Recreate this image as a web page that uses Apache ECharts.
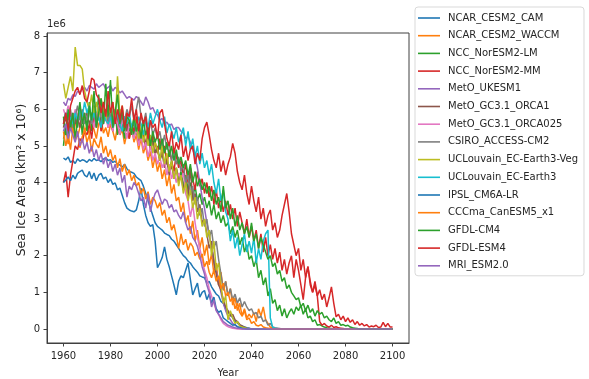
<!DOCTYPE html>
<html>
<head>
<meta charset="utf-8">
<script src="https://cdn.jsdelivr.net/npm/echarts@6.0.0/dist/echarts.min.js"></script>
<style>
  html, body { margin: 0; padding: 0; background: #fff; }
  #SeaIceChart { width: 589px; height: 379px; }
</style>
</head>
<body>
<div id="SeaIceChart"></div>
<script>
// sea ice area per model, 1960..2100, in units of 1e6 km2
const years = Array.from({ length: 141 }, (_, i) => 1960 + i);

const modelNames = ["NCAR_CESM2_CAM", "NCAR_CESM2_WACCM", "NCC_NorESM2-LM", "NCC_NorESM2-MM",
  "MetO_UKESM1", "MetO_GC3.1_ORCA1", "MetO_GC3.1_ORCA025", "CSIRO_ACCESS-CM2",
  "UCLouvain_EC-Earth3-Veg", "UCLouvain_EC-Earth3", "IPSL_CM6A-LR", "CCCma_CanESM5_x1",
  "GFDL-CM4", "GFDL-ESM4", "MRI_ESM2.0"];

const cesmCam = [
  4.67,4.62,4.70,4.55,4.60,4.52,4.65,4.58,4.62,4.60,
  4.55,4.63,4.58,4.66,4.60,4.62,4.57,4.64,4.68,4.60,
  4.62,4.55,4.58,4.50,4.48,4.42,4.50,4.38,4.30,4.28,
  4.25,4.15,4.10,4.05,3.90,3.70,3.50,3.30,3.10,2.90,
  2.80,2.75,2.70,2.62,2.58,2.55,2.45,2.40,2.30,2.20,
  2.10,2.00,1.95,1.85,1.80,1.70,1.62,1.55,1.45,1.42,
  1.40,1.25,1.30,1.15,1.05,0.95,0.90,0.75,0.70,0.55,
  0.45,0.40,0.30,0.22,0.16,0.10,0.08,0.05,0.03,0.02,
  0,0,0,0,0,0,0,0,0,0,
  0,0,0,0,0,0,0,0,0,0,
  0,0,0,0,0,0,0,0,0,0,
  0,0,0,0,0,0,0,0,0,0,
  0,0,0,0,0,0,0,0,0,0,
  0,0,0,0,0,0,0,0,0,0,
  0];

const cesmWaccm = [
  5.20,5.45,5.05,5.60,5.35,5.70,5.25,5.50,5.80,5.40,
  5.55,5.30,5.65,5.45,5.20,5.60,5.75,5.35,5.50,5.25,
  5.60,5.40,5.15,5.55,5.30,5.45,5.05,5.35,5.20,5.50,
  5.10,5.30,4.90,5.20,4.80,5.00,4.60,4.85,4.40,4.70,
  4.30,4.55,4.10,4.35,3.90,4.20,3.70,3.95,3.50,3.60,
  3.20,3.45,2.90,3.10,2.60,2.95,2.40,2.70,2.20,2.50,
  2.00,2.30,1.75,2.05,1.50,1.80,1.20,1.55,1.05,1.30,
  0.90,1.10,0.65,0.85,0.50,0.70,0.35,0.55,0.30,0.40,
  0.30,0.45,0.20,0.55,0.35,0.60,0.25,0.15,0.05,0.02,
  0,0,0,0,0,0,0,0,0,0,
  0,0,0,0,0,0,0,0,0,0,
  0,0,0,0,0,0,0,0,0,0,
  0,0,0,0,0,0,0,0,0,0,
  0,0,0,0,0,0,0,0,0,0,
  0];

const noresmLm = [
  5.00,5.60,5.20,5.90,5.40,5.80,5.50,6.10,5.30,5.90,
  5.60,6.20,5.40,6.00,5.70,6.40,5.50,6.10,5.80,5.60,
  6.00,5.50,5.90,5.30,5.80,5.60,5.20,5.70,5.40,5.60,
  5.30,5.70,5.10,5.50,5.20,5.00,5.40,4.90,5.20,4.80,
  5.00,4.60,4.90,4.50,4.70,4.30,4.60,4.20,4.40,4.10,
  4.30,3.90,4.20,3.80,4.00,3.60,3.90,3.50,3.70,3.40,
  3.60,3.30,3.50,3.10,3.40,3.00,3.20,2.90,3.10,2.80,
  2.90,2.60,2.80,2.50,2.70,2.30,2.50,2.10,2.30,1.90,
  2.00,1.70,1.90,1.40,1.60,1.20,1.40,0.90,1.10,0.70,
  0.80,0.50,0.65,0.35,0.55,0.30,0.45,0.55,0.40,0.60,
  0.50,0.65,0.40,0.55,0.30,0.35,0.20,0.25,0.10,0.12,
  0.08,0.05,0.03,0.02,0.01,0,0,0,0,0,
  0,0,0,0,0,0,0,0,0,0,
  0,0,0,0,0,0,0,0,0,0,
  0];

const noresmMm = [
  4.00,4.30,3.60,4.20,4.60,5.00,4.90,5.20,5.10,5.40,
  5.30,5.60,5.20,5.80,5.50,5.90,5.40,5.70,6.00,5.50,
  5.80,5.40,6.00,5.60,5.30,5.90,5.50,5.70,5.20,5.60,
  5.40,5.80,5.10,5.50,5.30,5.00,5.60,4.90,5.30,5.10,
  4.80,5.20,4.70,5.00,4.50,4.90,4.60,4.30,4.80,4.40,
  4.60,4.20,4.50,4.00,4.40,4.10,3.80,4.30,3.90,4.10,
  3.70,4.00,3.60,3.90,3.40,3.80,3.30,3.60,3.20,3.50,
  3.10,3.40,3.00,3.30,2.80,3.20,2.90,2.60,3.00,2.50,
  2.80,2.40,2.70,2.20,2.60,2.10,2.50,2.00,2.30,1.90,
  2.20,1.80,2.10,1.60,1.90,1.50,1.80,2.00,1.40,1.90,
  1.60,1.20,0.80,1.40,1.70,1.30,1.00,1.20,0.90,0.20,
  0.10,0.15,0.08,0.05,0.10,0.04,0.06,0.03,0.02,0.01,
  0,0,0,0,0,0,0,0,0,0,
  0,0,0,0,0,0,0,0,0,0,
  0];

const ukesm = [
  6.20,6.10,6.30,6.25,6.40,6.35,6.50,6.45,6.55,6.60,
  6.50,6.65,6.60,6.55,6.70,6.60,6.65,6.70,6.55,6.60,
  6.65,6.50,6.60,6.55,6.45,6.50,6.40,6.30,6.35,6.30,
  6.25,6.35,6.30,6.20,6.10,6.34,6.20,6.00,6.05,5.90,
  5.85,5.70,5.75,5.60,5.65,5.55,5.60,5.45,5.50,5.50,
  5.40,5.35,5.20,5.25,5.10,4.90,4.70,4.40,4.00,3.60,
  3.30,2.90,2.60,2.20,1.90,1.60,1.30,1.00,0.70,0.50,
  0.35,0.25,0.15,0.10,0.06,0.03,0.02,0.01,0,0,
  0,0,0,0,0,0,0,0,0,0,
  0,0,0,0,0,0,0,0,0,0,
  0,0,0,0,0,0,0,0,0,0,
  0,0,0,0,0,0,0,0,0,0,
  0,0,0,0,0,0,0,0,0,0,
  0,0,0,0,0,0,0,0,0,0,
  0];

const gcOrca1 = [
  5.50,5.80,5.40,5.70,5.90,5.60,5.80,5.50,6.00,5.70,
  5.90,5.60,5.80,6.10,5.70,5.90,5.50,5.80,6.00,5.60,
  5.80,5.50,5.90,5.70,6.00,5.60,5.80,5.40,5.70,5.50,
  5.60,5.30,5.50,5.20,5.40,5.00,5.30,4.90,5.10,4.80,
  4.90,4.60,4.80,4.40,4.60,4.20,4.50,4.10,4.40,4.00,
  4.20,3.80,4.10,3.60,4.40,3.50,3.70,3.20,3.40,2.90,
  3.00,2.60,2.20,2.40,1.80,1.50,1.20,1.07,0.80,0.60,
  0.50,0.35,0.40,0.25,0.20,0.12,0.08,0.05,0.02,0.01,
  0,0,0,0,0,0,0,0,0,0,
  0,0,0,0,0,0,0,0,0,0,
  0,0,0,0,0,0,0,0,0,0,
  0,0,0,0,0,0,0,0,0,0,
  0,0,0,0,0,0,0,0,0,0,
  0,0,0,0,0,0,0,0,0,0,
  0];

const gcOrca025 = [
  6.00,5.80,6.10,5.90,5.70,6.00,5.80,6.10,5.60,5.90,
  5.70,6.00,5.80,5.50,5.90,5.70,6.00,5.60,5.80,5.50,
  5.70,5.40,5.80,5.60,5.30,5.70,5.50,5.20,5.60,5.40,
  5.20,5.50,5.00,5.30,4.90,5.10,4.70,5.00,4.60,4.80,
  4.50,4.70,4.40,4.60,4.20,4.50,4.10,4.30,4.00,4.26,
  4.10,4.26,3.70,3.50,3.06,3.40,2.90,2.50,2.20,1.90,
  1.60,1.40,1.10,0.90,0.70,0.50,0.40,0.25,0.15,0.10,
  0.06,0.04,0.02,0.01,0,0,0,0,0,0,
  0,0,0,0,0,0,0,0,0,0,
  0,0,0,0,0,0,0,0,0,0,
  0,0,0,0,0,0,0,0,0,0,
  0,0,0,0,0,0,0,0,0,0,
  0,0,0,0,0,0,0,0,0,0,
  0,0,0,0,0,0,0,0,0,0,
  0];

const accessCm2 = [
  5.60,5.90,5.70,6.00,5.50,5.80,6.10,5.70,5.90,5.60,
  5.80,6.00,5.60,5.90,5.70,6.10,5.80,5.60,6.00,5.70,
  5.90,5.60,6.00,5.80,5.50,5.90,5.70,6.00,5.80,6.10,
  5.70,6.00,6.34,5.80,5.60,5.90,5.40,5.70,5.30,5.50,
  5.20,5.40,5.00,5.30,4.90,5.10,4.60,4.90,4.50,4.70,
  4.30,4.50,4.00,4.20,3.70,3.90,3.40,3.60,3.10,3.30,
  2.80,3.00,2.50,2.70,2.20,2.40,1.90,1.50,1.07,1.30,
  0.90,1.10,0.80,0.95,0.70,0.85,0.60,0.75,0.60,0.50,
  0.55,0.40,0.45,0.30,0.35,0.20,0.25,0.10,0.15,0.05,
  0.03,0.02,0.01,0,0,0,0,0,0,0,
  0,0,0,0,0,0,0,0,0,0,
  0,0,0,0,0,0,0,0,0,0,
  0,0,0,0,0,0,0,0,0,0,
  0,0,0,0,0,0,0,0,0,0,
  0];

const ecEarth3Veg = [
  6.70,6.30,6.60,6.90,6.50,7.70,7.20,7.20,7.10,6.50,
  6.20,6.00,6.40,5.90,6.20,5.80,6.30,6.00,5.70,6.10,
  5.90,6.20,5.60,6.90,5.80,6.10,5.50,5.90,5.70,5.40,
  5.80,5.50,5.20,5.60,5.10,5.40,5.00,5.30,4.80,5.10,
  4.90,4.60,5.00,4.50,4.80,4.30,4.60,4.10,4.40,3.90,
  4.20,3.70,4.00,3.50,3.80,3.30,3.60,3.00,3.30,2.80,
  3.00,2.50,2.70,2.00,2.40,1.60,1.80,1.20,0.70,0.90,
  0.25,0.50,0.30,0.15,0.20,0.08,0.05,0.03,0.01,0,
  0,0,0,0,0,0,0,0,0,0,
  0,0,0,0,0,0,0,0,0,0,
  0,0,0,0,0,0,0,0,0,0,
  0,0,0,0,0,0,0,0,0,0,
  0,0,0,0,0,0,0,0,0,0,
  0,0,0,0,0,0,0,0,0,0,
  0];

const ecEarth3 = [
  5.70,5.90,5.50,5.80,5.60,5.90,5.70,6.00,5.80,6.20,
  5.90,6.10,5.70,5.90,5.60,5.80,5.50,5.90,5.70,5.60,
  5.80,5.50,5.70,5.90,5.60,5.40,5.80,5.60,5.90,5.50,
  5.70,5.40,5.80,5.60,5.30,5.70,5.50,5.90,5.60,5.80,
  6.00,5.70,5.50,5.80,5.35,5.60,5.40,5.20,5.50,5.10,
  5.30,5.50,5.00,5.40,4.90,5.20,4.70,5.00,4.50,4.80,
  4.40,4.60,4.20,4.50,4.00,3.70,4.10,3.50,3.80,3.20,
  3.00,2.40,2.70,2.20,2.50,2.00,2.30,2.60,2.10,2.40,
  2.07,2.50,1.80,2.20,1.90,2.40,2.60,2.70,0.30,0.05,
  0.02,0.01,0,0,0,0,0,0,0,0,
  0,0,0,0,0,0,0,0,0,0,
  0,0,0,0,0,0,0,0,0,0,
  0,0,0,0,0,0,0,0,0,0,
  0,0,0,0,0,0,0,0,0,0,
  0];

const ipsl = [
  4.00,4.07,4.15,4.05,4.20,4.10,4.25,4.30,4.34,4.20,
  4.15,4.30,4.10,4.26,4.05,4.20,4.25,4.10,4.15,4.00,
  4.10,3.95,3.99,3.80,3.85,3.65,3.45,3.30,3.25,3.22,
  3.20,3.25,3.50,3.85,3.40,3.10,2.90,2.80,2.85,2.40,
  1.67,1.80,1.95,2.24,1.90,1.70,1.45,1.20,0.93,1.30,
  1.45,1.40,1.60,1.80,1.35,0.93,1.10,1.25,0.87,1.00,
  1.05,0.80,0.95,0.70,0.87,0.55,0.45,0.50,0.30,0.25,
  0.20,0.15,0.10,0.12,0.06,0.04,0.02,0.01,0,0,
  0,0,0,0,0,0,0,0,0,0,
  0,0,0,0,0,0,0,0,0,0,
  0,0,0,0,0,0,0,0,0,0,
  0,0,0,0,0,0,0,0,0,0,
  0,0,0,0,0,0,0,0,0,0,
  0,0,0,0,0,0,0,0,0,0,
  0];

const canesm = [
  5.40,5.00,5.30,4.90,5.50,5.15,5.35,4.95,5.25,5.45,
  5.10,5.30,4.85,5.20,5.05,4.95,5.25,4.80,5.00,4.70,
  4.90,4.60,4.75,4.40,4.65,4.30,4.50,4.20,4.35,4.05,
  4.20,3.90,4.00,3.70,3.85,3.55,3.75,3.40,3.60,3.50,
  3.30,3.45,3.10,3.25,2.90,3.05,2.70,2.85,2.55,2.20,
  2.60,2.30,2.45,2.15,2.35,2.25,2.00,2.10,1.90,2.05,
  1.70,1.85,1.55,1.40,1.60,1.30,1.45,1.10,1.25,0.90,
  1.00,0.75,0.85,0.55,0.70,0.45,0.35,0.50,0.25,0.30,
  0.15,0.20,0.10,0.08,0.12,0.05,0.03,0.02,0.01,0,
  0,0,0,0,0,0,0,0,0,0,
  0,0,0,0,0,0,0,0,0,0,
  0,0,0,0,0,0,0,0,0,0,
  0,0,0,0,0,0,0,0,0,0,
  0,0,0,0,0,0,0,0,0,0,
  0];

const gfdlCm4 = [
  5.80,5.30,6.00,5.50,5.90,5.20,5.70,6.20,5.60,5.90,
  5.40,6.10,5.70,6.50,5.50,5.90,6.30,5.60,6.70,5.80,
  6.80,5.50,5.90,6.40,5.60,6.00,5.40,5.80,5.70,5.30,
  5.80,5.40,5.60,5.20,5.70,5.30,5.50,5.00,5.40,5.10,
  5.30,4.90,5.20,4.80,5.10,4.70,5.00,4.60,4.90,4.50,
  4.70,4.40,4.60,4.20,4.50,4.00,4.30,3.90,4.10,3.80,
  4.00,3.70,3.90,3.50,3.80,3.40,3.60,3.20,3.90,3.30,
  3.50,3.00,3.30,2.80,3.10,2.70,2.90,2.60,2.80,2.50,
  2.90,2.40,2.60,2.20,2.50,2.30,2.10,1.90,2.00,1.70,
  1.80,1.50,1.60,1.30,1.40,1.10,1.20,1.00,0.90,0.80,
  0.85,0.60,0.70,0.50,0.65,0.45,0.55,0.35,0.50,0.40,
  0.45,0.30,0.35,0.25,0.20,0.30,0.15,0.20,0.10,0.12,
  0.08,0.10,0.05,0.03,0.02,0.01,0,0,0,0,
  0,0,0,0,0,0,0,0,0,0,
  0];

const gfdlEsm4 = [
  5.60,5.90,5.40,6.10,6.30,6.50,6.60,6.40,6.65,6.30,
  6.20,6.50,6.85,6.80,6.40,6.30,5.90,6.20,5.80,6.50,
  5.90,6.20,5.60,6.00,5.70,6.10,5.50,5.90,5.80,6.30,
  5.70,6.00,5.40,5.90,5.60,5.80,5.20,5.70,5.50,5.60,
  5.20,5.90,6.00,5.60,5.20,5.00,5.40,4.80,5.10,4.90,
  5.30,4.70,5.00,4.60,4.90,5.00,4.50,4.80,4.60,5.20,
  5.50,5.65,5.30,4.90,4.60,4.40,4.80,4.30,4.60,4.20,
  4.50,4.70,5.07,4.80,4.30,4.00,3.80,4.20,3.70,3.40,
  3.90,3.50,3.20,3.60,3.00,3.30,2.80,3.10,3.25,2.70,
  2.90,2.50,2.70,3.10,3.40,3.70,3.20,2.60,2.30,2.00,
  2.20,1.60,1.90,1.40,1.70,1.20,1.00,1.30,0.90,1.07,
  0.80,0.95,0.60,0.85,1.15,0.70,0.33,0.40,0.25,0.35,
  0.20,0.30,0.18,0.25,0.12,0.20,0.10,0.15,0.08,0.12,
  0.05,0.08,0.06,0.10,0.04,0.05,0.18,0.06,0.15,0.05,
  0.05];

const mriEsm = [
  5.40,5.60,5.20,5.50,5.30,5.10,5.40,5.00,5.20,4.90,
  5.10,4.80,5.00,4.70,4.90,4.60,4.80,4.50,4.70,4.40,
  4.60,4.30,4.50,4.20,4.40,4.00,4.20,3.60,3.90,3.80,
  4.00,3.90,3.70,3.50,3.60,3.30,3.70,3.20,3.50,3.70,
  3.80,3.60,3.40,3.55,3.50,3.30,3.40,3.20,3.25,3.10,
  3.00,3.20,2.90,2.70,2.80,2.50,2.40,2.25,2.00,1.70,
  1.50,1.20,1.00,0.60,0.80,0.50,0.40,0.30,0.20,0.15,
  0.10,0.08,0.05,0.03,0.02,0.01,0,0,0,0,
  0,0,0,0,0,0,0,0,0,0,
  0,0,0,0,0,0,0,0,0,0,
  0,0,0,0,0,0,0,0,0,0,
  0,0,0,0,0,0,0,0,0,0,
  0,0,0,0,0,0,0,0,0,0,
  0,0,0,0,0,0,0,0,0,0,
  0];

const modelValues = [cesmCam, cesmWaccm, noresmLm, noresmMm, ukesm, gcOrca1, gcOrca025,
  accessCm2, ecEarth3Veg, ecEarth3, ipsl, canesm, gfdlCm4, gfdlEsm4, mriEsm];

const xTicks = [1960, 1980, 2000, 2020, 2040, 2060, 2080, 2100];
const yTicks = [0, 1, 2, 3, 4, 5, 6, 7, 8];

// matplotlib tab10 cycle
const colors = ['#1f77b4', '#ff7f0e', '#2ca02c', '#d62728', '#9467bd', '#8c564b', '#e377c2',
  '#7f7f7f', '#bcbd22', '#17becf', '#1f77b4', '#ff7f0e', '#2ca02c', '#d62728', '#9467bd'];

const font = "DejaVu Sans";
const textColor = "#262626";
const axisColor = "#404040";

const chartElem = document.getElementById("SeaIceChart");
const chart = echarts.init(chartElem);
chart.setOption({
  animation: false,
  color: colors,
  textStyle: { fontFamily: font },
  grid: {
    left: 47, right: 180, top: 33, bottom: 36,
    outerBoundsMode: 'none',
    show: true, borderColor: axisColor, borderWidth: 1, backgroundColor: 'transparent'
  },
  graphic: [{
    type: 'text', left: 47, top: 19,
    style: { text: '1e6', fontFamily: font, fontSize: 10, fill: textColor }
  }, {
    type: 'text', x: 22, y: 180, rotation: Math.PI / 2,
    style: { text: 'Sea Ice Area (km² x 10⁶)', fontFamily: font, fontSize: 12.5, fill: textColor,
      align: 'center', verticalAlign: 'middle' }
  }],
  legend: {
    orient: 'vertical',
    left: 415, top: 7,
    data: modelNames.map(n => ({ name: n, icon: 'rect' })),
    itemWidth: 22, itemHeight: 1.6, itemGap: 7.7,
    padding: [6, 6, 5, 3],
    backgroundColor: '#fff',
    borderColor: '#d9d9d9', borderWidth: 1, borderRadius: 3,
    textStyle: { fontFamily: font, fontSize: 10, color: textColor, padding: [0, 0, 0, 3] }
  },
  xAxis: {
    type: 'value', min: 1953, max: 2107,
    name: 'Year', nameLocation: 'middle', nameGap: 25,
    nameTextStyle: { fontFamily: font, fontSize: 10, color: textColor },
    axisLine: { show: true, onZero: false, lineStyle: { color: axisColor, width: 1 } },
    axisTick: { show: true, length: 3.5, customValues: xTicks, lineStyle: { color: axisColor } },
    axisLabel: { customValues: xTicks, margin: 8, fontSize: 10, color: textColor, fontFamily: font,
      formatter: v => String(v) },
    splitLine: { show: false }
  },
  yAxis: {
    type: 'value', min: -0.385, max: 8.085,
    axisLine: { show: true, onZero: false, lineStyle: { color: axisColor, width: 1 } },
    axisTick: { show: true, length: 3.5, customValues: yTicks, lineStyle: { color: axisColor } },
    axisLabel: { customValues: yTicks, margin: 7, fontSize: 10, color: textColor, fontFamily: font,
      formatter: v => String(Math.round(v)) },
    splitLine: { show: false }
  },
  series: modelNames.map((name, i) => ({
    name: name,
    type: 'line',
    data: years.map((y, j) => [y, modelValues[i][j]]),
    symbol: 'none',
    lineStyle: { width: 1.5, color: colors[i] },
    itemStyle: { color: colors[i] }
  }))
});
</script>
</body>
</html>
